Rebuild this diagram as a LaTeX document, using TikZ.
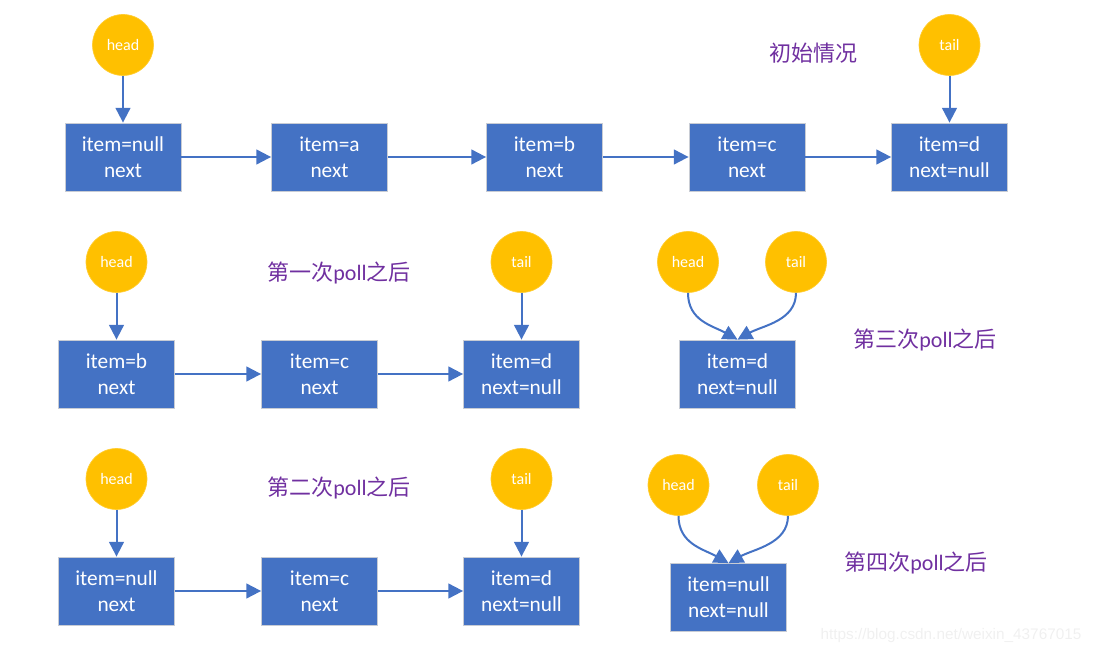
\documentclass[tikz,border=0pt]{standalone}
\usepackage{fontspec}
\setmainfont{Carlito}
\newfontfamily\cjk{Noto Sans CJK SC}
\newfontfamily\wmfont{Liberation Sans}
\usetikzlibrary{arrows.meta}
\definecolor{boxblue}{HTML}{4472C4}
\definecolor{boxedge}{HTML}{C8CCD4}
\definecolor{circ}{HTML}{FFC000}
\definecolor{purp}{HTML}{7030A0}
\tikzset{
  nodebox/.style={draw=boxedge, line width=0.6pt, fill=boxblue, text=white, minimum width=87pt, minimum height=51pt, inner sep=0pt, align=center, font=\fontsize{16}{19.5}\selectfont},
  ptr/.style={circle, draw=circ!80!white, line width=0.5pt, fill=circ, text=white, minimum size=45.75pt, inner sep=0pt, font=\fontsize{12}{14}\selectfont},
  link/.style={draw=boxblue, line width=1.5pt, -{Triangle[length=11pt,width=11pt]}},
  lbl/.style={text=purp, font=\fontsize{16.5}{19}\selectfont, inner sep=0pt}
}
\newcommand{\zh}[1]{{\cjk #1}}
\begin{document}
\begin{tikzpicture}[x=0.75pt,y=-0.75pt]
\useasboundingbox (0,0) rectangle (1096,655);
% Row 1
\node[nodebox] (a1) at (123,157) {item=null\\next};
\node[nodebox] (a2) at (329.5,157) {item=a\\next};
\node[nodebox] (a3) at (544.5,157) {item=b\\next};
\node[nodebox] (a4) at (747,157) {item=c\\next};
\node[nodebox] (a5) at (949.5,157) {item=d\\next=null};
\node[ptr] (ah) at (123,45) {head};
\node[ptr] (at) at (949.5,45) {tail};
\node[lbl] (al) at (813,53) {\zh{初始情况}};
\draw[link] (ah) -- (a1);
\draw[link] (at) -- (a5);
\draw[link] (a1) -- (a2);
\draw[link] (a2) -- (a3);
\draw[link] (a3) -- (a4);
\draw[link] (a4) -- (a5);
% Row 2
\node[nodebox] (b1) at (116.5,374) {item=b\\next};
\node[nodebox] (b2) at (319.5,374) {item=c\\next};
\node[nodebox] (b3) at (521.5,374) {item=d\\next=null};
\node[ptr] (bh) at (116.5,262) {head};
\node[ptr] (bt) at (521.5,262) {tail};
\node[lbl] (bl) at (339,273) {\zh{第一次}poll\zh{之后}};
\draw[link] (bh) -- (b1);
\draw[link] (bt) -- (b3);
\draw[link] (b1) -- (b2);
\draw[link] (b2) -- (b3);
% Row 2 right
\node[nodebox] (c1) at (737.5,374) {item=d\\next=null};
\node[ptr] (ch) at (688,262) {head};
\node[ptr] (ct) at (796,262) {tail};
\node[lbl] (cl) at (925,340) {\zh{第三次}poll\zh{之后}};
\draw[link] (ch.south) .. controls +(0,28) and +(-25,-14) .. (c1.north);
\draw[link] (ct.south) .. controls +(0,28) and +(25,-14) .. (c1.north);
% Row 3
\node[nodebox] (d1) at (116.5,591) {item=null\\next};
\node[nodebox] (d2) at (319.5,591) {item=c\\next};
\node[nodebox] (d3) at (521.5,591) {item=d\\next=null};
\node[ptr] (dh) at (116.5,479) {head};
\node[ptr] (dt) at (521.5,479) {tail};
\node[lbl] (dl) at (339,488) {\zh{第二次}poll\zh{之后}};
\draw[link] (dh) -- (d1);
\draw[link] (dt) -- (d3);
\draw[link] (d1) -- (d2);
\draw[link] (d2) -- (d3);
% Row 3 right
\node[nodebox] (e1) at (728.5,597.5) {item=null\\next=null};
\node[ptr] (eh) at (678.5,485) {head};
\node[ptr] (et) at (788,485) {tail};
\node[lbl] (el) at (916,563) {\zh{第四次}poll\zh{之后}};
\draw[link] (eh.south) .. controls +(0,28) and +(-25,-14) .. (e1.north);
\draw[link] (et.south) .. controls +(0,28) and +(25,-14) .. (e1.north);
% watermark
\node[text=black!6, font=\wmfont\fontsize{11.5}{13}\selectfont, inner sep=0pt] (wm) at (951,636) {https://blog.csdn.net/weixin\_43767015};
\end{tikzpicture}
\end{document}
